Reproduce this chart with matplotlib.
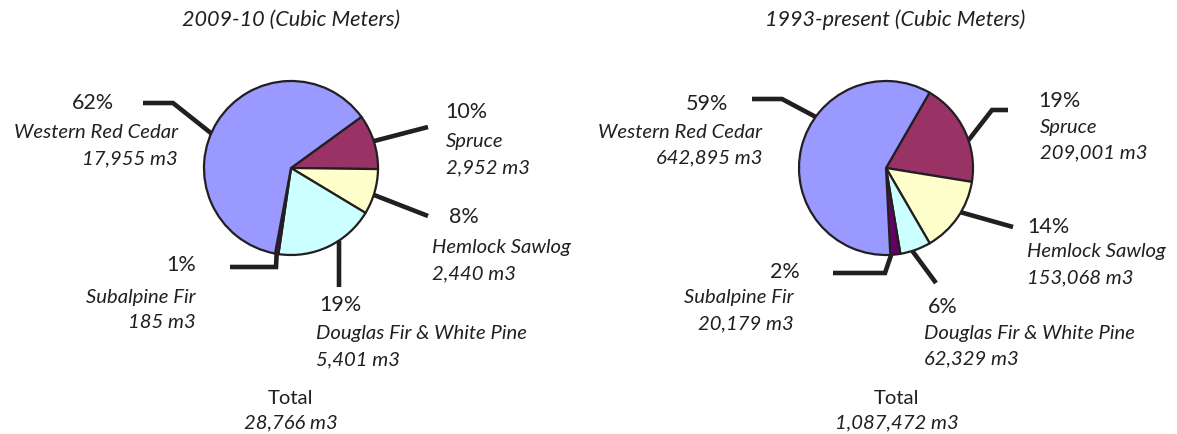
import numpy as np
import matplotlib.pyplot as plt

W, H = 1177, 434

# data (order = clockwise from the start angle)
species = ['Spruce', 'Hemlock Sawlog', 'Douglas Fir & White Pine',
           'Subalpine Fir', 'Western Red Cedar']
colors = ['#993366', '#FFFFCC', '#CCFFFF', '#660066', '#9999FF']

vol_2009 = [2952, 2440, 5401, 185, 17955]
pct_2009 = [10, 8, 19, 1, 62]
total_2009 = 28766

vol_1993 = [209001, 153068, 62329, 20179, 642895]
pct_1993 = [19, 14, 6, 2, 59]
total_1993 = 1087472

INK = '#231f20'
plt.rcParams['font.family'] = ['Lato', 'DejaVu Sans']

# layout in pixel coords (y down). leader = (rim angle, [points...])
layouts = [
    dict(vals=vol_2009, pcts=pct_2009, total=total_2009,
         title='2009-10 (Cubic Meters)', center=(291, 168), start=36,
         leaders=[(18, [(428, 127)]),
                  (-18, [(428, 216)]),
                  (-56.5, [(339, 287)]),
                  (-99.5, [(276, 267), (230, 267)]),
                  (156.5, [(173, 103), (143, 103)])],
         pct_pos=[(445, 112, 'left'), (449, 217, 'left'), (319, 305, 'left'),
                  (196, 265, 'right'), (93, 103, 'center')],
         lab_pos=[(446, 142, 'left'), (432, 248, 'left'), (316, 334, 'left'),
                  (196, 297, 'right'), (178, 133, 'right')],
         title_x=291, total_x=291),
    dict(vals=vol_1993, pcts=pct_1993, total=total_1993,
         title='1993-present (Cubic Meters)', center=(886, 168), start=60,
         leaders=[(18.6, [(992, 110), (1008, 110)]),
                  (-30.6, [(1013, 227)]),
                  (-72.4, [(936, 283)]),
                  (-86.6, [(885, 273), (833, 273)]),
                  (144, [(782, 99), (752, 99)])],
         pct_pos=[(1038, 101, 'left'), (1027, 227, 'left'), (928, 307, 'left'),
                  (800, 272, 'right'), (707, 104, 'center')],
         lab_pos=[(1040, 127, 'left'), (1027, 252, 'left'), (924, 333, 'left'),
                  (794, 298, 'right'), (762, 132, 'right')],
         title_x=895, total_x=897),
]

R = 87
LINE_GAP = 26
PCT_SIZE = 15.5
LAB_SIZE = 14.6

fig = plt.figure(figsize=(W / 100, H / 100), dpi=100)
ax = fig.add_axes([0, 0, 1, 1])

for lay in layouts:
    cx, cy = lay['center']
    ax.pie(lay['vals'], colors=colors, startangle=lay['start'], counterclock=False,
           center=(cx, H - cy), radius=R,
           wedgeprops=dict(edgecolor=INK, linewidth=1.6))

    # leader lines
    for ang, pts in lay['leaders']:
        a = np.deg2rad(ang)
        xs = [cx + R * np.cos(a)] + [p[0] for p in pts]
        ys = [H - (cy - R * np.sin(a))] + [H - p[1] for p in pts]
        ax.plot(xs, ys, color=INK, lw=3.3, solid_capstyle='butt',
                solid_joinstyle='miter', zorder=3)

    # labels
    for name, v, p, (px, py, pha), (lx, ly, lha) in zip(
            species, lay['vals'], lay['pcts'], lay['pct_pos'], lay['lab_pos']):
        ax.text(px, H - py, f'{p}%', ha=pha, va='center', fontsize=PCT_SIZE,
                color=INK)
        ax.text(lx, H - ly, name, ha=lha, va='center', fontsize=LAB_SIZE,
                style='italic', color=INK)
        ax.text(lx, H - ly - LINE_GAP, f'{v:,} m3', ha=lha, va='center',
                fontsize=LAB_SIZE, style='italic', color=INK)

    ax.text(lay['title_x'], H - 20, lay['title'], ha='center', va='center',
            fontsize=LAB_SIZE + 1, style='italic', color=INK)
    ax.text(lay['total_x'], H - 398, 'Total', ha='center', va='center',
            fontsize=LAB_SIZE, color=INK)
    ax.text(lay['total_x'], H - 423, f'{lay["total"]:,} m3', ha='center',
            va='center', fontsize=LAB_SIZE, style='italic', color=INK)

ax.set_aspect('equal')
ax.set_xlim(0, W)
ax.set_ylim(0, H)
ax.axis('off')

fig.savefig('out.png', dpi=100, facecolor='white')
